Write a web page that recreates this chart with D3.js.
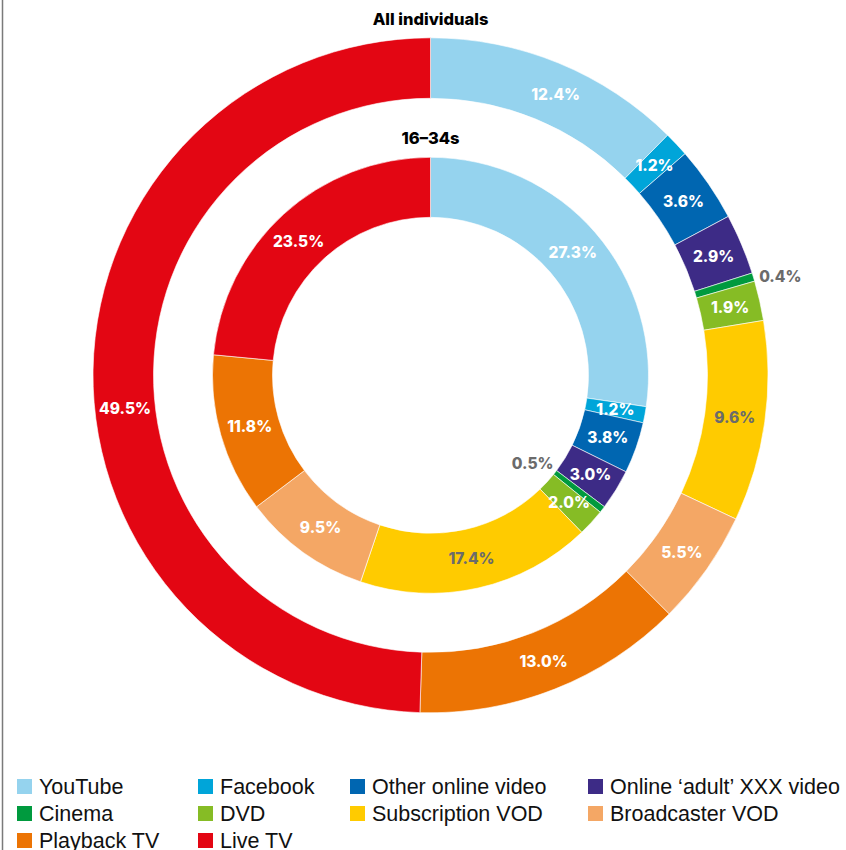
<!DOCTYPE html>
<html>
<head>
<meta charset="utf-8">
<script src="https://cdn.jsdelivr.net/npm/d3@7/dist/d3.min.js"></script>
<style>
  html, body { margin: 0; padding: 0; background: #fff; }
  svg { display: block; }
</style>
</head>
<body>
<script>
// Share of viewing time by source, two audiences
const categories = ["YouTube", "Facebook", "Other online video", "Online \u2018adult\u2019 XXX video",
  "Cinema", "DVD", "Subscription VOD", "Broadcaster VOD", "Playback TV", "Live TV"];
const allIndividuals = [12.4, 1.2, 3.6, 2.9, 0.4, 1.9, 9.6, 5.5, 13.0, 49.5];
const age16to34 = [27.3, 1.2, 3.8, 3.0, 0.5, 2.0, 17.4, 9.5, 11.8, 23.5];
const ringTitles = ["All individuals", "16\u201334s"];
const colors = ["#95d3ee", "#00a5d9", "#0066b1", "#3d2b86", "#009a3e",
  "#86bc25", "#ffcb00", "#f4a765", "#ec7404", "#e30613"];

const W = 846, H = 850;
const cx = 430.5, cy = 375.3;
const outerR = [337.5, 277], innerR = [218, 158];

const svg = d3.select("body").append("svg").attr("width", W).attr("height", H);

// left rule
svg.append("line").attr("x1", 2.5).attr("x2", 2.5).attr("y1", 0).attr("y2", H)
  .attr("stroke", "#7a7a7a").attr("stroke-width", 1.5);

const color = d3.scaleOrdinal().domain(categories).range(colors);
const pie = d3.pie().sort(null).value(d => d.value);

const rings = [
  { title: ringTitles[0], values: allIndividuals, r0: outerR[1], r1: outerR[0] },
  { title: ringTitles[1], values: age16to34, r0: innerR[1], r1: innerR[0] }
];

// per-label angle nudges (radians) and special placements
const nudge = { "0|Live TV": -0.124, "0|YouTube": 0.03, "1|Live TV": -0.04 };
const darkText = new Set(["Subscription VOD"]);

const g = svg.append("g").attr("transform", `translate(${cx},${cy})`);

rings.forEach((ring, ri) => {
  const data = pie(categories.map((c, i) => ({ cat: c, value: ring.values[i] })));
  const arc = d3.arc().innerRadius(ring.r0).outerRadius(ring.r1);
  g.append("g").selectAll("path").data(data).join("path")
    .attr("d", arc)
    .attr("fill", d => color(d.data.cat))
    .attr("stroke", "#fff").attr("stroke-width", 0.6);

  const mid = (ring.r0 + ring.r1) / 2;
  data.forEach(d => {
    let a = (d.startAngle + d.endAngle) / 2 + (nudge[ri + "|" + d.data.cat] || 0);
    let r = mid, fill = darkText.has(d.data.cat) ? "#6b6b6b" : "#fff";
    if (d.data.cat === "Cinema") {
      fill = "#6b6b6b";
      r = ri === 0 ? ring.r1 + 26 : ring.r0 - 23;
      a += ri === 0 ? 0.02 : 0.05;
    }
    g.append("text")
      .attr("x", r * Math.sin(a))
      .attr("y", -r * Math.cos(a))
      .attr("dy", "0.36em")
      .attr("text-anchor", "middle")
      .attr("font-family", "Inter, 'Liberation Sans', Arial, sans-serif")
      .attr("font-weight", 800)
      .attr("font-size", 15.5)
      .attr("fill", fill)
      .text(d3.format(".1f")(d.data.value) + "%");
  });

  g.append("text")
    .attr("x", 0).attr("y", -ring.r1 - 13)
    .attr("text-anchor", "middle")
    .attr("font-family", "Inter, 'Liberation Sans', Arial, sans-serif")
    .attr("font-weight", 800)
    .attr("font-size", 16.5)
    .attr("fill", "#000")
    .text(ring.title);
});

// legend
const colX = [17, 198, 350, 588];
const rowY = [786, 813, 840];
const legend = svg.append("g");
categories.forEach((c, i) => {
  const x = colX[i % 4], y = rowY[Math.floor(i / 4)];
  legend.append("rect").attr("x", x).attr("y", y - 7).attr("width", 15).attr("height", 15)
    .attr("fill", color(c));
  legend.append("text").attr("x", x + 22).attr("y", y).attr("dy", "0.36em")
    .attr("font-family", "'Liberation Sans', Arial, sans-serif")
    .attr("font-size", 21.5)
    .attr("fill", "#111")
    .text(c);
});
</script>
</body>
</html>
